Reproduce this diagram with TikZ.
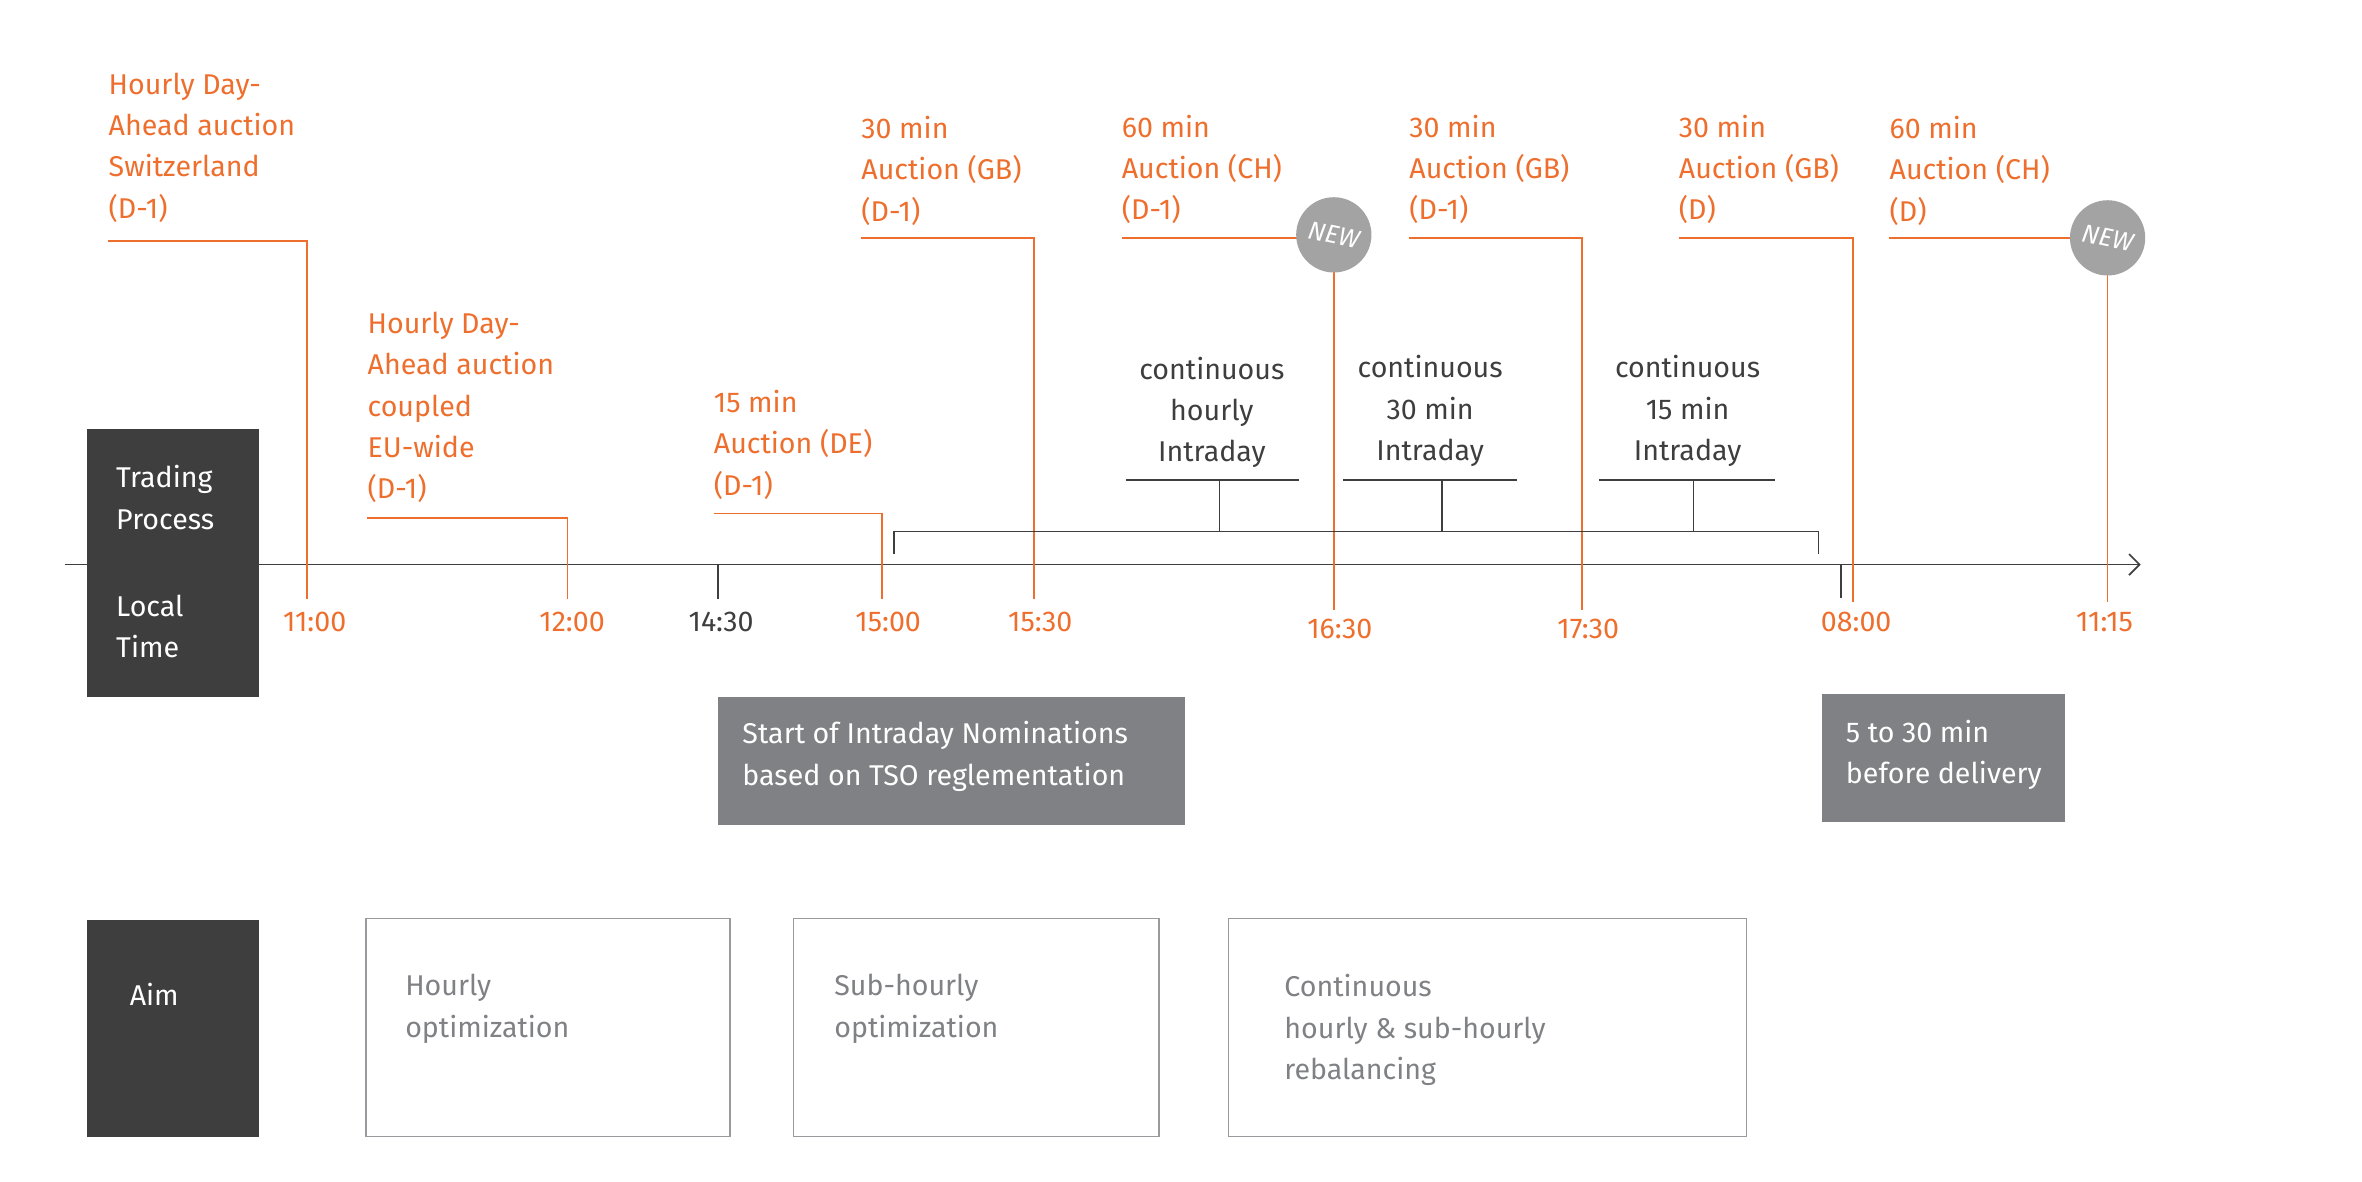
\documentclass[tikz,border=0pt]{standalone}
\usepackage{fontspec}
\setmainfont{Fira Sans}
\usetikzlibrary{arrows.meta}
\definecolor{org}{HTML}{EE6F2D}
\definecolor{dk}{HTML}{3E3E3E}
\definecolor{gb}{HTML}{808184}
\definecolor{nw}{HTML}{A3A3A3}
\begin{document}
\begin{tikzpicture}[x=1pt,y=-1pt,
 fnt/.style={font=\fontsize{19}{27.5}\selectfont},
 olab/.style={fnt,text=org,anchor=north west,align=left,inner sep=0},
 otime/.style={fnt,text=org,anchor=center,inner sep=0},
 blab/.style={fnt,text=dk,align=center,inner sep=0},
 lead/.style={draw=org,line width=1.1pt},
 blk/.style={draw=dk,line width=1.1pt},
 darkbox/.style={fill=dk,draw=none},
 greybox/.style={fill=gb,draw=none},
 aimbox/.style={draw=gb!80,line width=1pt},
 wt/.style={fnt,text=white,anchor=north west,align=left,inner sep=0},
 gt/.style={fnt,text=gb,anchor=north west,align=left,inner sep=0},
 newc/.style={circle,fill=nw,minimum size=50pt,inner sep=0,text=white,font=\fontsize{17}{17}\selectfont\itshape}]
\useasboundingbox (0,0) rectangle (1569,784.5);
% axis
\coordinate (a0) at (43,375); \coordinate (a1) at (1422,375);
\draw[blk,-{Straight Barb[length=7pt,width=14pt]}] (a0) -- (a1);
% left boxes
\fill[darkbox] (58,285) rectangle (172,463);
\node[wt] (tp) at (77,309) {Trading\\Process};
\node[wt] (lt) at (77,395) {Local\\Time};
\fill[darkbox] (58,611) rectangle (172,755);
\node[wt] (aim) at (86,653) {Aim};
% labels
\node[olab] (l1) at (72,48) {Hourly Day-\\Ahead auction\\Switzerland\\(D-1)};
\draw[lead] (72,160) -| (204,398);
\node[otime] (t1) at (209,413) {11:00};
\node[olab] (l2) at (244,207) {Hourly Day-\\Ahead auction\\coupled\\EU-wide\\(D-1)};
\draw[lead] (244,344) -| (377,398);
\node[otime] (t2) at (380,413) {12:00};
\draw[blk] (477,375) -- (477,398);
\node[otime,text=dk] (t3) at (479,413) {14:30};
\node[olab] (l4) at (474,259) {15 min\\Auction (DE)\\(D-1)};
\draw[lead] (474,341) -| (586,398);
\node[otime] (t4) at (590,413) {15:00};
\node[olab] (l5) at (572,77) {30 min\\Auction (GB)\\(D-1)};
\draw[lead] (572,158) -| (687,398);
\node[otime] (t5) at (691,413) {15:30};
\node[olab] (l6) at (745,76) {60 min\\Auction (CH)\\(D-1)};
\draw[lead] (745,158) -| (886,405);
\node[newc] (n1) at (886,156) {\rotatebox{-12}{NEW}};
\node[otime] (t6) at (890,418) {16:30};
\node[olab] (l7) at (936,76) {30 min\\Auction (GB)\\(D-1)};
\draw[lead] (936,158) -| (1051,405);
\node[otime] (t7) at (1055,418) {17:30};
\node[olab] (l8) at (1115,76) {30 min\\Auction (GB)\\(D)};
\draw[lead] (1115,158) -| (1231,400);
\node[otime] (t8) at (1233,413) {08:00};
\draw[blk] (1223,375) -- (1223,397);
\node[olab] (l9) at (1255,77) {60 min\\Auction (CH)\\(D)};
\draw[lead] (1255,158) -| (1400,400);
\node[newc] (n2) at (1400,158) {\rotatebox{-12}{NEW}};
\node[otime] (t9) at (1398,413) {11:15};
% brackets
\draw[blk] (594,368) -- (594,353) -- (1208,353) -- (1208,368);
\draw[blk] (748,319) -- (863,319); \draw[blk] (810,319) -- (810,353);
\draw[blk] (892,319) -- (1008,319); \draw[blk] (958,319) -- (958,353);
\draw[blk] (1062,319) -- (1179,319); \draw[blk] (1125,319) -- (1125,353);
\node[blab] (c1) at (805,274) {continuous\\hourly\\Intraday};
\node[blab] (c2) at (950,273) {continuous\\30 min\\Intraday};
\node[blab] (c3) at (1121,273) {continuous\\15 min\\Intraday};
% grey boxes
\fill[greybox] (477,463) rectangle (787,548);
\node[wt] (g1) at (493,479) {Start of Intraday Nominations\\based on TSO reglementation};
\fill[greybox] (1210,461) rectangle (1372,546);
\node[wt] (g2) at (1226,478) {5 to 30 min\\before delivery};
% aim boxes
\draw[aimbox] (243,610) rectangle (485,755);
\node[gt] (b1) at (269,647) {Hourly\\optimization};
\draw[aimbox] (527,610) rectangle (770,755);
\node[gt] (b2) at (554,647) {Sub-hourly\\optimization};
\draw[aimbox] (816,610) rectangle (1160,755);
\node[gt] (b3) at (853,647) {Continuous\\hourly \& sub-hourly\\rebalancing};
\end{tikzpicture}
\end{document}
